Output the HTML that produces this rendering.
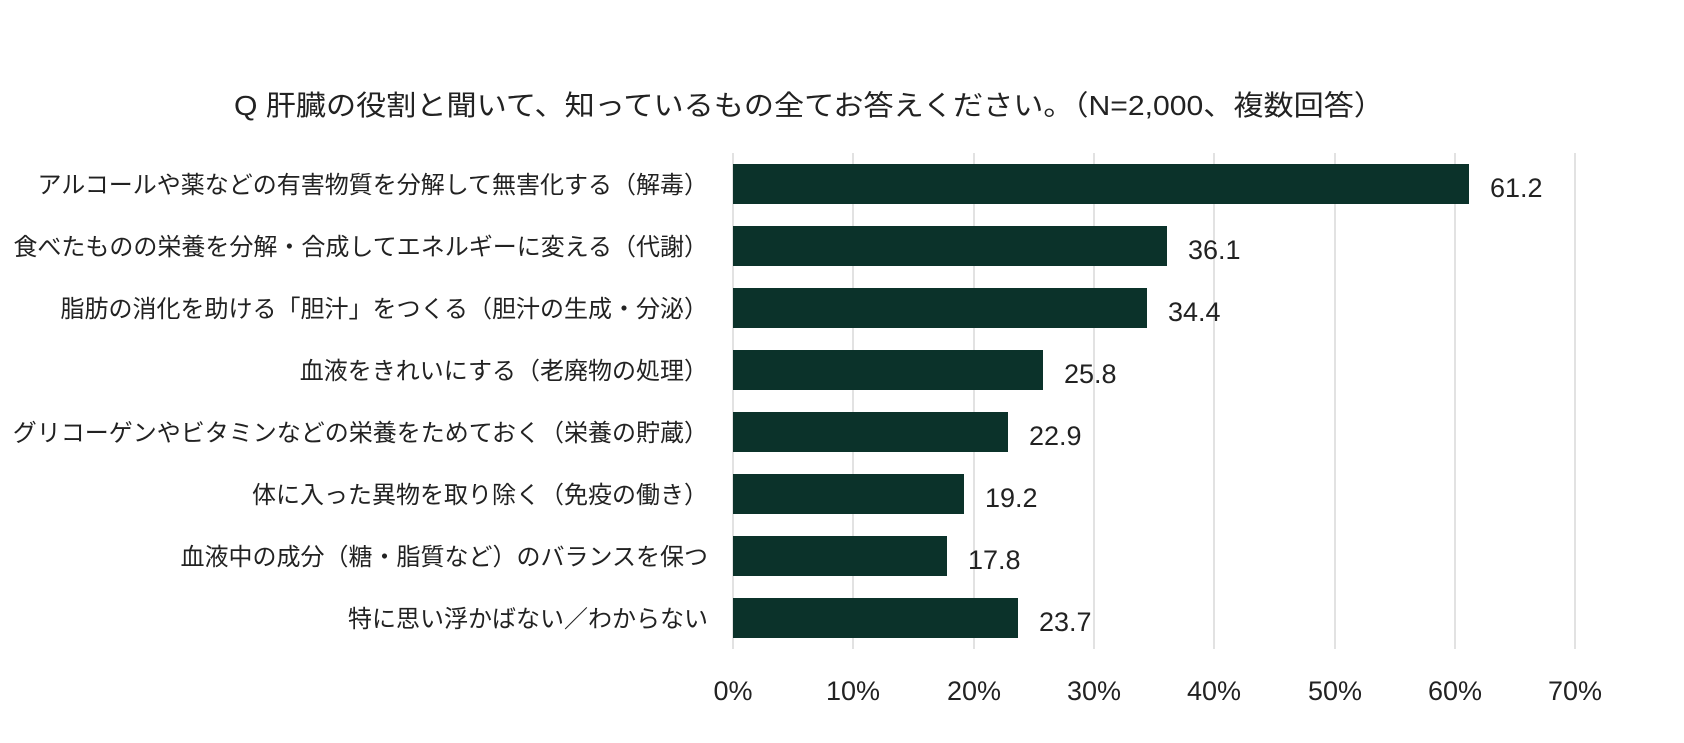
<!DOCTYPE html>
<html><head><meta charset="utf-8"><style>
html,body{margin:0;padding:0;background:#fff;}
svg text{font-family:"Liberation Sans","Noto Sans CJK JP",sans-serif;fill:#222;}
</style></head><body>
<svg width="1684" height="738" xmlns="http://www.w3.org/2000/svg">
<rect width="1684" height="738" fill="#fff"/>
<text x="234" y="115" font-size="28" textLength="1150" lengthAdjust="spacingAndGlyphs">Q 肝臓の役割と聞いて、知っているもの全てお答えください。（N=2,000、複数回答）</text>
<g stroke="#d9d9d9" stroke-width="1.5">
<line x1="733" y1="153" x2="733" y2="649"/>
<line x1="853" y1="153" x2="853" y2="649"/>
<line x1="974" y1="153" x2="974" y2="649"/>
<line x1="1094" y1="153" x2="1094" y2="649"/>
<line x1="1214" y1="153" x2="1214" y2="649"/>
<line x1="1335" y1="153" x2="1335" y2="649"/>
<line x1="1455" y1="153" x2="1455" y2="649"/>
<line x1="1575" y1="153" x2="1575" y2="649"/>
</g>
<g fill="#0b322a">
<rect x="733" y="164" width="736" height="40"/>
<rect x="733" y="226" width="434" height="40"/>
<rect x="733" y="288" width="414" height="40"/>
<rect x="733" y="350" width="310" height="40"/>
<rect x="733" y="412" width="275" height="40"/>
<rect x="733" y="474" width="231" height="40"/>
<rect x="733" y="536" width="214" height="40"/>
<rect x="733" y="598" width="285" height="40"/>
</g>
<g font-size="27">
<text x="1490" y="197">61.2</text>
<text x="1188" y="259">36.1</text>
<text x="1168" y="321">34.4</text>
<text x="1064" y="383">25.8</text>
<text x="1029" y="445">22.9</text>
<text x="985" y="507">19.2</text>
<text x="968" y="569">17.8</text>
<text x="1039" y="631">23.7</text>
</g>
<g font-size="24" text-anchor="end">
<text x="708" y="193">アルコールや薬などの有害物質を分解して無害化する（解毒）</text>
<text x="708" y="255">食べたものの栄養を分解・合成してエネルギーに変える（代謝）</text>
<text x="708" y="317">脂肪の消化を助ける「胆汁」をつくる（胆汁の生成・分泌）</text>
<text x="708" y="379">血液をきれいにする（老廃物の処理）</text>
<text x="708" y="441">グリコーゲンやビタミンなどの栄養をためておく（栄養の貯蔵）</text>
<text x="708" y="503">体に入った異物を取り除く（免疫の働き）</text>
<text x="708" y="565">血液中の成分（糖・脂質など）のバランスを保つ</text>
<text x="708" y="627">特に思い浮かばない／わからない</text>
</g>
<g font-size="27" text-anchor="middle">
<text x="733" y="700">0%</text>
<text x="853" y="700">10%</text>
<text x="974" y="700">20%</text>
<text x="1094" y="700">30%</text>
<text x="1214" y="700">40%</text>
<text x="1335" y="700">50%</text>
<text x="1455" y="700">60%</text>
<text x="1575" y="700">70%</text>
</g>
</svg>
</body></html>
